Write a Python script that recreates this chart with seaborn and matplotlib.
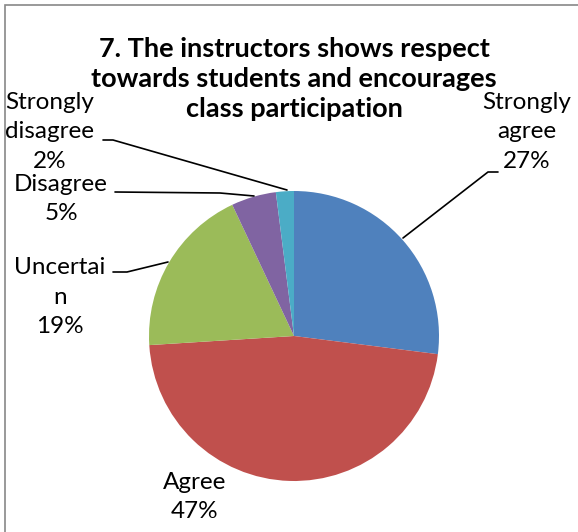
import matplotlib
matplotlib.use("Agg")
import matplotlib.pyplot as plt
import seaborn as sns
from matplotlib.patches import Rectangle

categories = ["Strongly agree", "Agree", "Uncertain", "Disagree", "Strongly disagree"]
values = [27, 47, 19, 5, 2]
label_texts = ["Strongly\nagree\n27%", "Agree\n47%", "Uncertai\nn\n19%", "Disagree\n5%", "Strongly\ndisagree\n2%"]
colors = ["#4F81BD", "#C0504D", "#9BBB59", "#8064A2", "#4BACC6"]
title = "7. The instructors shows respect\ntowards students and encourages\nclass participation"

sns.set_theme(style="white")
plt.rcParams['font.family'] = ['Lato', 'DejaVu Sans']

W, H = 578, 532
fig = plt.figure(figsize=(W / 100, H / 100), dpi=100)
ax = fig.add_axes([0, 0, 1, 1])
ax.set_xlim(0, W)
ax.set_ylim(0, H)
ax.set_aspect("equal")
ax.axis("off")

def Y(py):
    return H - py

# frame
ax.add_patch(Rectangle((5, Y(600)), 700, 595, fill=False, edgecolor="#888888", lw=1.2))

ax.pie(values, colors=sns.color_palette(colors), startangle=90, counterclock=False,
       center=(294, Y(336)), radius=145, wedgeprops=dict(linewidth=0),
       frame=True)
ax.set_xlim(0, W)
ax.set_ylim(0, H)
ax.axis("off")

ax.text(294, Y(79), title, ha="center", va="center", fontsize=19.5, fontweight="bold",
        linespacing=1.32, color="black")

label_pos = [(527, 132), (195, 497), (60, 297), (61, 199), (50, 132)]
for (x, y), t in zip(label_pos, label_texts):
    ax.text(x, Y(y), t, ha="center", va="center", fontsize=17.5, linespacing=1.5, color="black")

leaders = [
    [(498, 172), (488, 172), (403, 238)],
    [(103, 140), (113, 140), (287, 190)],
    [(115, 192), (220, 193), (254, 196)],
    [(113, 272), (127, 272), (168, 262)],
]
for pts in leaders:
    ax.plot([p[0] for p in pts], [Y(p[1]) for p in pts], color="black", lw=1.2)

fig.savefig("out.png", dpi=100)
